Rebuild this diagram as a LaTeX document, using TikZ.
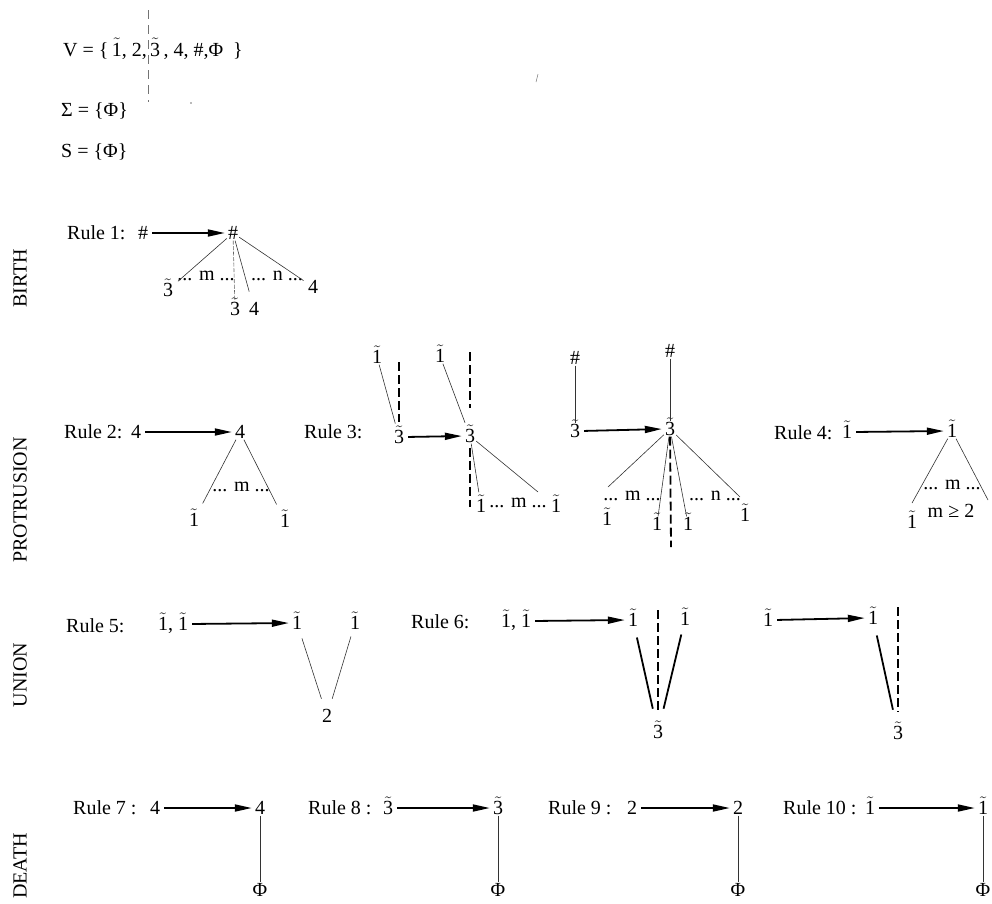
\documentclass[tikz,border=0pt]{standalone}
\usepackage{fontspec}
\setmainfont{Liberation Serif}
\usetikzlibrary{arrows.meta}
% digit with a tilde on top
\newcommand\tl[1]{\ensuremath{\tilde{\mbox{#1}}}}
\begin{document}
\begin{tikzpicture}[x=1pt, y=-1pt,
  font=\fontsize{20}{24}\selectfont,
  every node/.style={inner sep=1pt, text height=13pt, text depth=0pt},
  rulename/.style={anchor=west},
  dots/.style={anchor=base},
  section/.style={rotate=90},
  link/.style={line width=0.6pt, draw=black!80},
  dotlink/.style={line width=0.6pt, draw=black!60, dash pattern=on 4pt off 1.5pt},
  fatlink/.style={line width=1.8pt},
  bar/.style={line width=1.8pt, dash pattern=on 9pt off 4pt},
  produce/.style={line width=1.8pt, shorten <=3pt, shorten >=2pt, -{Triangle[length=17pt,width=7pt]}},
  speck/.style={line width=0.5pt, draw=black!55},
]
\useasboundingbox (0,0) rectangle (992,903);

% alphabet, terminals and start symbol
\node[anchor=base west] (alphabetV) at (62,56) {V = \{\,\tl{1}, 2,\,\tl{3}\,, 4, \#,Φ\ \ \}};
\node[anchor=base west] (alphabetT) at (60,116) {Σ\ = \{Φ\}};
\node[anchor=base west] (startS) at (60,157) {S = \{Φ\}};

% specks
\draw[speck, dash pattern=on 9pt off 6pt] (148,10) -- (148,102);
\fill[black!55] (191,103) circle (0.9);
\draw[speck] (538,74) -- (536,82);

% section titles
\node[section] (birth) at (20,278) {BIRTH};
\node[section] (protrusion) at (20,500) {PROTRUSION};
\node[section] (union) at (20,675) {UNION};
\node[section] (death) at (20,866) {DEATH};

% ---------- Rule 1
\node[rulename] (rule1) at (66,233) {Rule 1:};
\node (b0) at (143,233) {\#};
\node (b1) at (233,233) {\#};
\draw[produce] (b0.east) -- (b1.west);
\node (b2) at (168,290) {\tl{3}};
\node[dots] (b3) at (206,280) {... m ...};
\node (b4) at (235,309) {\tl{3}};
\node (b5) at (254,309) {4};
\node[dots] (b6) at (277,280) {... n ...};
\node (b7) at (313,287) {4};
\draw[link, shorten >=5pt] (b1) -- (b2);
\draw[dotlink] (b1) -- (b4);
\draw[link, shorten >=10pt] (b1) -- (b5);
\draw[link, shorten >=4pt] (b1) -- (b7);

% ---------- Rule 2
\node[rulename] (rule2) at (63,432) {Rule 2:};
\node (p0) at (136,432) {4};
\node (p1) at (240,432) {4};
\draw[produce] (p0.east) -- (p1.west);
\node (p2) at (194,520) {\tl{1}};
\node (p3) at (285,521) {\tl{1}};
\node[dots] (p4) at (241,491) {... m ...};
\draw[link, shorten >=10pt] (p1) -- (p2);
\draw[link, shorten >=10pt] (p1) -- (p3);

% ---------- Rule 3
\node[rulename] (rule3) at (303,432) {Rule 3:};
\node (q0) at (399,437) {\tl{3}};
\node (q1) at (470,436) {\tl{3}};
\draw[produce] (q0.east) -- (q1.west);
\node (q2) at (377,357) {\tl{1}};
\node (q3) at (440,356) {\tl{1}};
\coordinate (q0top) at (399,362);
\coordinate (q1top) at (470,352);
\coordinate (q1bot) at (470,507);
\draw[link, shorten >=6pt] (q2) -- (q0);
\draw[bar, shorten >=7pt] (q0top) -- (q0);
\draw[link, shorten >=6pt] (q3) -- (q1);
\draw[bar, shorten >=20pt] (q1top) -- (q1);
\draw[bar, shorten <=4pt] (q1) -- (q1bot);
\node (q4) at (481,506) {\tl{1}};
\node[dots] (q5) at (518,507) {... m ...};
\node (q6) at (556,506) {\tl{1}};
\coordinate (q5r) at (538,492);
\draw[link, shorten >=6pt] (q1) -- (q4);
\draw[link] (q1) -- (q5r);

\node (q7) at (575,358) {\#};
\node (q8) at (575,431) {\tl{3}};
\draw[link] (q7) -- (q8);
\node (q9) at (670,351) {\#};
\node (q10) at (670,429) {\tl{3}};
\draw[link] (q9) -- (q10);
\draw[produce] (q8.east) -- (q10.west);
\coordinate (q11) at (608,487);
\node (q12) at (607,519) {\tl{1}};
\node[dots] (q13) at (632,500) {... m ...};
\node (q14) at (657,524) {\tl{1}};
\coordinate (q15) at (671,547);
\node (q16) at (688,524) {\tl{1}};
\node[dots] (q17) at (715,500) {... n ...};
\coordinate (q18) at (740,497);
\node (q19) at (745,515) {\tl{1}};
\draw[link] (q10) -- (q11);
\draw[link] (q10) -- (q14);
\draw[bar] (q10) -- (q15);
\draw[link] (q10) -- (q16);
\draw[link] (q10) -- (q18);

% ---------- Rule 4
\node[rulename] (rule4) at (773,433) {Rule 4:};
\node (s0) at (847,432) {\tl{1}};
\node (s1) at (952,431) {\tl{1}};
\draw[produce] (s0.east) -- (s1.west);
\coordinate (s2) at (912,503);
\coordinate (s3) at (988,500);
\draw[link] (s1) -- (s2);
\draw[link] (s1) -- (s3);
\node[dots] (s4) at (952,489) {... m ...};
\node[dots] (s5) at (951,517) {m ≥ 2};
\node (s6) at (912,522) {\tl{1}};
\node (s7) at (998,519) {\tl{1}};

% ---------- Rule 5
\node[rulename] (rule5) at (65,626) {Rule 5:};
\node (u0) at (173,624) {\tl{1}, \tl{1}};
\node (u1) at (297,623) {\tl{1}};
\node (u2) at (355,623) {\tl{1}};
\node (u3) at (327,716) {2};
\draw[produce] (u0.east) -- (u1.west);
\draw[link, shorten <=8pt, shorten >=10pt] (u1) -- (u3);
\draw[link, shorten <=6pt, shorten >=10pt] (u2) -- (u3);

% ---------- Rule 6
\node[rulename] (rule6) at (410,622) {Rule 6:};
\node (v0) at (516,621) {\tl{1}, \tl{1}};
\node (v1) at (633,620) {\tl{1}};
\node (v2) at (685,619) {\tl{1}};
\node (v3) at (658,732) {\tl{3}};
\coordinate (v4) at (658,610);
\draw[produce] (v0.east) -- (v1.west);
\draw[bar, shorten >=14pt] (v4) -- (v3);
\draw[fatlink, shorten <=10pt, shorten >=16pt] (v1) -- (v3);
\draw[fatlink, shorten <=8pt, shorten >=16pt] (v2) -- (v3);

\node (w0) at (768,620) {\tl{1}};
\node (w1) at (873,618) {\tl{1}};
\node (w2) at (898,733) {\tl{3}};
\coordinate (w3) at (898,607);
\draw[produce] (w0.east) -- (w1.west);
\draw[bar, shorten >=14pt] (w3) -- (w2);
\draw[fatlink, shorten <=10pt, shorten >=16pt] (w1) -- (w2);

% ---------- Rules 7 to 10
\node[rulename] (rule7) at (72,808) {Rule 7 :};
\node (d0) at (155,808) {4};
\node (d1) at (260,808) {4};
\node (d2) at (260,890) {Φ};
\draw[produce] (d0.east) -- (d1.west);
\draw[link] (d1) -- (d2);

\node[rulename] (rule8) at (307,808) {Rule 8 :};
\node (d3) at (388,808) {\tl{3}};
\node (d4) at (498,808) {\tl{3}};
\node (d5) at (498,890) {Φ};
\draw[produce] (d3.east) -- (d4.west);
\draw[link] (d4) -- (d5);

\node[rulename] (rule9) at (547,808) {Rule 9 :};
\node (d6) at (632,808) {2};
\node (d7) at (738,808) {2};
\node (d8) at (738,890) {Φ};
\draw[produce] (d6.east) -- (d7.west);
\draw[link] (d7) -- (d8);

\node[rulename] (rule10) at (782,808) {Rule 10 :};
\node (d9) at (870,808) {\tl{1}};
\node (d10) at (983,808) {\tl{1}};
\node (d11) at (983,890) {Φ};
\draw[produce] (d9.east) -- (d10.west);
\draw[link] (d10) -- (d11);
\end{tikzpicture}
\end{document}
